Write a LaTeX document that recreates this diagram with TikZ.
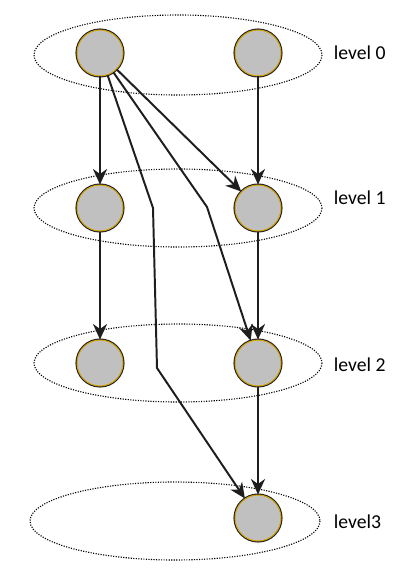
\documentclass[tikz,border=0pt]{standalone}
\usepackage{fontspec}
\setmainfont{Carlito}
\usepackage{tikz}
\usetikzlibrary{arrows.meta}

\definecolor{nodegray}{RGB}{192,192,192}
\definecolor{ringgold}{RGB}{210,160,0}
\definecolor{edgedark}{RGB}{30,30,30}

\tikzset{
    task/.style={circle, minimum size=1.15cm, inner sep=0pt, fill=nodegray,
        draw=ringgold, line width=0.7pt,
        preaction={draw=edgedark, line width=2.2pt}},
    dep/.style={draw=edgedark, line width=1.4pt, -{Stealth[length=11pt, width=10pt, inset=3.5pt]}},
    lvl/.style={draw, densely dotted, line width=0.8pt},
    lvltext/.style={anchor=west, font=\fontsize{14}{16}\selectfont}
}

\begin{document}
\begin{tikzpicture}[x=0.025cm, y=-0.025cm]
    \useasboundingbox (0,0) rectangle (420,572);

    % levels
    \draw[lvl] (178,55) ellipse (144 and 40);
    \draw[lvl] (178,208) ellipse (144 and 39);
    \draw[lvl] (178,363) ellipse (144 and 39);
    \draw[lvl] (175,521) ellipse (145 and 39);
    \node[lvltext] at (329,53) {level 0};
    \node[lvltext] at (329,198) {level 1};
    \node[lvltext] at (329,365) {level 2};
    \node[lvltext] at (329,522) {level3};

    % tasks
    \node[task] (a0) at (100,53) {};
    \node[task] (b0) at (258,53) {};
    \node[task] (a1) at (100,208) {};
    \node[task] (b1) at (258,208) {};
    \node[task] (a2) at (100,363) {};
    \node[task] (b2) at (258,363) {};
    \node[task] (b3) at (258,518) {};

    % bends
    \coordinate (k1) at (207,207);
    \coordinate (k2) at (153,208);
    \coordinate (k3) at (157,368);

    \draw[dep] (a0) -- (a1);
    \draw[dep] (b0) -- (b1);
    \draw[dep] (a0) -- (b1);
    \draw[dep] (a0) -- (k1) -- (b2);
    \draw[dep] (a0) -- (k2) -- (k3) -- (b3);
    \draw[dep] (a1) -- (a2);
    \draw[dep] (b1) -- (b2);
    \draw[dep] (b2) -- (b3);
\end{tikzpicture}
\end{document}
